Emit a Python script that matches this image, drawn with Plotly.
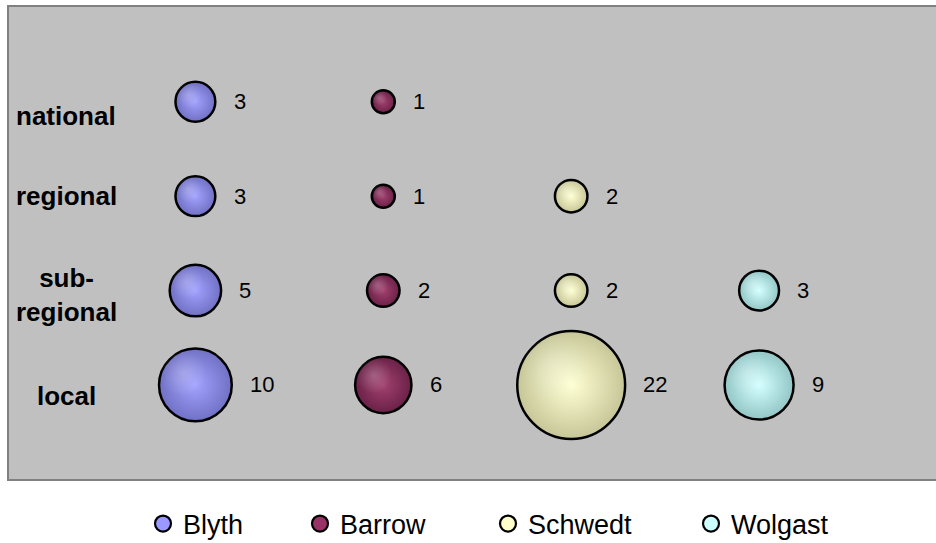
import math
import plotly.graph_objects as go

# Number of projects per site and level of impact
sites = ["Blyth", "Barrow", "Schwedt", "Wolgast"]
levels = ["national", "regional", "sub-regional", "local"]
blyth = [3, 3, 5, 10]
barrow = [1, 1, 2, 6]
schwedt = [None, 2, 2, 22]
wolgast = [None, None, 3, 9]
level_labels = ["national", "regional", "sub-<br>regional", "local"]

series = [blyth, barrow, schwedt, wolgast]

# Styling
base_colors = ["#9999FF", "#993366", "#FFFFCC", "#CCFFFF"]
edge_colors = ["#7070C4", "#6A2147", "#C6C698", "#93C6C6"]
center_colors = ["#A2A2FF", "#A2416F", "#FFFFD4", "#D4FFFF"]
legend_widths = [112, 143, 158, 100]
label_yshift = [-14, 0, -4, -11]
SCALE = 23.0           # px of diameter per sqrt(value)
LINE_W = 2.5
FONT = "Liberation Sans, Arial, sans-serif"

# axis ranges and the pixel size of one data unit (plot area 927 x 472 px)
X_RANGE = [0.008, 4.9415]
Y_RANGE = [0.004, 5.004]
PX_X = 927 / (X_RANGE[1] - X_RANGE[0])
PX_Y = 472 / (Y_RANGE[1] - Y_RANGE[0])

level_pos = {lvl: len(levels) - i for i, lvl in enumerate(levels)}

fig = go.Figure()
annotations = []

for si, (site, vals) in enumerate(zip(sites, series)):
    xs, ys, ss = [], [], []
    hx, hy, hs = [], [], []
    for lvl, v in zip(levels, vals):
        if v is None:
            continue
        xs.append(si + 1)
        ys.append(level_pos[lvl])
        ss.append(v)
        diameter = SCALE * math.sqrt(v)
        # soft highlight toward the upper left of each sphere
        hx.append(si + 1 - 0.17 * diameter / PX_X)
        hy.append(level_pos[lvl] + 0.17 * diameter / PX_Y)
        hs.append(v * 0.42)
        annotations.append(dict(
            x=si + 1, y=level_pos[lvl], xref="x", yref="y",
            text=str(v), showarrow=False, xanchor="left", yanchor="middle",
            xshift=(diameter + LINE_W) / 2 + 15,
            font=dict(family=FONT, size=22, color="#000000"),
        ))
    fig.add_trace(go.Scatter(
        x=xs, y=ys, mode="markers", name=site, showlegend=False,
        legendgroup=site,
        marker=dict(
            size=ss, sizemode="area", sizeref=2.0 / SCALE ** 2,
            color=edge_colors[si],
            gradient=dict(type="radial", color=center_colors[si]),
            line=dict(color="#000000", width=LINE_W),
            opacity=1,
        ),
        hovertemplate=site + ": %{marker.size}<extra></extra>",
    ))
    fig.add_trace(go.Scatter(
        x=hx, y=hy, mode="markers", showlegend=False, hoverinfo="skip",
        legendgroup=site,
        marker=dict(
            size=hs, sizemode="area", sizeref=2.0 / SCALE ** 2,
            color="rgba(255,255,255,0)",
            gradient=dict(type="radial", color="rgba(255,255,255,0.32)"),
            line=dict(width=0),
        ),
    ))
    # legend key
    fig.add_trace(go.Scatter(
        x=[None], y=[None], mode="markers", name=site, legendgroup=site,
        legendwidth=legend_widths[si], hoverinfo="skip",
        marker=dict(size=16, color=base_colors[si],
                    line=dict(color="#000000", width=2.2)),
    ))

# Row labels on the left inside the plot area
for i, lvl in enumerate(levels):
    annotations.append(dict(
        x=0.0615, y=level_pos[lvl], xref="paper", yref="y",
        text="<b>" + level_labels[i] + "</b>", showarrow=False,
        xanchor="center", yanchor="middle", align="center",
        yshift=label_yshift[i],
        font=dict(family=FONT, size=26, color="#000000"),
    ))

fig.update_layout(
    width=936, height=543,
    margin=dict(l=9, r=0, t=7, b=64),
    paper_bgcolor="#FFFFFF",
    plot_bgcolor="#C0C0C0",
    xaxis=dict(range=X_RANGE, showgrid=False, zeroline=False,
               showticklabels=False, ticks="", showline=True, mirror=True,
               linecolor="#808080", linewidth=2),
    yaxis=dict(range=Y_RANGE, showgrid=False, zeroline=False,
               showticklabels=False, ticks="", showline=True, mirror=False,
               linecolor="#808080", linewidth=2),
    showlegend=True,
    legend=dict(
        orientation="h", xref="container", yref="container",
        x=143 / 936, xanchor="left", y=1 - 524 / 543, yanchor="middle",
        font=dict(family=FONT, size=27, color="#000000"),
        bgcolor="rgba(0,0,0,0)", itemwidth=30, itemclick=False,
        itemdoubleclick=False,
    ),
    annotations=annotations,
)

fig.write_html("out.html")
